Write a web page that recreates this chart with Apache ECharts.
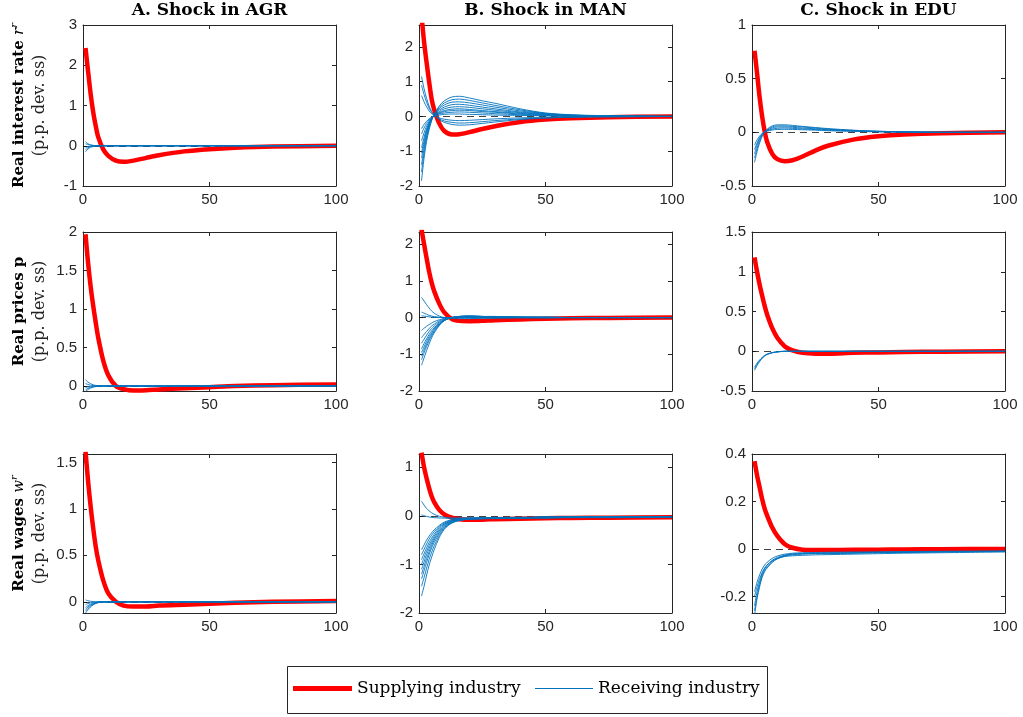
<!DOCTYPE html>
<html>
<head>
<meta charset="utf-8">
<script src="https://cdn.jsdelivr.net/npm/echarts@6/dist/echarts.min.js"></script>
<style>
html,body{margin:0;padding:0;background:#fff;}
#chart{width:1023px;height:717px;}
</style>
</head>
<body>
<div id="chart"></div>
<script>
// ---------- DATA ----------
const T = [1,2,3,4,5,6,8,10,13,16,20,25,30,40,50,60,75,100];
const X_TICKS = [0,50,100];

const COL_TITLES = ['A. Shock in AGR','B. Shock in MAN','C. Shock in EDU'];
const LEGEND_NAMES = ['Supplying industry','Receiving industry'];

// Row 1: real interest rate
const R_AGR_RED = [2.43,1.85,1.3,0.85,0.5,0.22,-0.09,-0.25,-0.37,-0.40,-0.37,-0.3,-0.235,-0.14,-0.085,-0.05,-0.02,0.0];
const R_AGR_BLUE = [
  [-0.15,-0.08,-0.04,-0.02,-0.01,0,0,0,0,0,0,0,0,0,0,0,0,0],
  [-0.1,-0.05,-0.02,-0.01,0,0,0,0,0,0,0,0,0,0,0,0,0,0],
  [-0.05,-0.02,-0.01,0,0,0,0,0,0,0,0,0,0,0,0,0,0,0],
  [0.05,0.03,0.015,0.005,0,0,0,0,0,0,0,0,0,0,0,0,0,0],
  [0.1,0.05,0.02,0.01,0,0,0,0,0,0,0,0,0,0,0,0,0,0]
];
const R_MAN_RED = [2.9,2.15,1.55,1.0,0.5,0.2,-0.2,-0.42,-0.52,-0.51,-0.45,-0.36,-0.28,-0.16,-0.09,-0.05,-0.02,0];
const R_MAN_BLUE = [
  [-1.85,-1.2,-0.72,-0.38,-0.12,0.06,0.3,0.45,0.56,0.58,0.53,0.45,0.38,0.22,0.1,0.05,0.02,0.0],
  [-1.6,-1.05,-0.62,-0.32,-0.1,0.05,0.26,0.39,0.48,0.5,0.46,0.39,0.32,0.19,0.09,0.04,0.015,0],
  [-1.4,-0.92,-0.55,-0.28,-0.08,0.05,0.22,0.33,0.41,0.42,0.39,0.33,0.27,0.16,0.08,0.04,0.01,0],
  [-1.2,-0.8,-0.48,-0.24,-0.07,0.04,0.18,0.27,0.34,0.35,0.32,0.27,0.22,0.13,0.07,0.03,0.01,0],
  [-1.05,-0.7,-0.42,-0.21,-0.06,0.03,0.14,0.22,0.27,0.28,0.26,0.22,0.18,0.11,0.06,0.03,0.01,0],
  [-0.9,-0.6,-0.36,-0.18,-0.05,0.03,0.11,0.17,0.21,0.22,0.2,0.17,0.14,0.09,0.05,0.02,0.01,0],
  [-0.7,-0.47,-0.28,-0.14,-0.04,0.02,0.09,0.14,0.17,0.18,0.17,0.14,0.12,0.07,0.04,0.02,0.01,0],
  [-0.5,-0.33,-0.2,-0.1,-0.03,0.02,0.07,0.1,0.12,0.13,0.12,0.1,0.08,0.05,0.03,0.01,0,0],
  [-0.35,-0.23,-0.14,-0.07,-0.02,0.01,0.04,0.06,0.07,0.07,0.06,0.05,0.04,0.03,0.02,0.01,0,0],
  [0.6,0.42,0.28,0.16,0.08,0.03,-0.04,-0.08,-0.11,-0.12,-0.11,-0.09,-0.07,-0.04,-0.02,-0.01,0,0],
  [0.9,0.63,0.41,0.24,0.12,0.04,-0.07,-0.13,-0.17,-0.19,-0.18,-0.15,-0.12,-0.07,-0.04,-0.02,-0.01,0],
  [1.15,0.8,0.52,0.3,0.14,0.04,-0.09,-0.17,-0.23,-0.25,-0.24,-0.2,-0.16,-0.09,-0.05,-0.02,-0.01,0]
];
const R_EDU_RED = [0.76,0.55,0.33,0.15,0.01,-0.09,-0.2,-0.25,-0.27,-0.26,-0.225,-0.17,-0.125,-0.068,-0.037,-0.02,-0.008,0];
const R_EDU_BLUE = [
  [-0.28,-0.18,-0.1,-0.04,0.0,0.03,0.06,0.07,0.07,0.065,0.055,0.045,0.035,0.02,0.01,0.005,0,0],
  [-0.24,-0.15,-0.08,-0.03,0.0,0.025,0.05,0.06,0.06,0.055,0.05,0.04,0.03,0.018,0.01,0.005,0,0],
  [-0.2,-0.12,-0.06,-0.02,0.005,0.02,0.04,0.05,0.05,0.047,0.04,0.033,0.025,0.015,0.008,0.004,0,0],
  [-0.16,-0.1,-0.05,-0.015,0.005,0.015,0.03,0.038,0.04,0.037,0.032,0.026,0.02,0.012,0.006,0.003,0,0],
  [-0.12,-0.07,-0.035,-0.01,0.005,0.012,0.022,0.027,0.028,0.027,0.024,0.02,0.015,0.009,0.005,0.002,0,0]
];

// Row 2: real prices
const P_AGR_RED = [1.97,1.6,1.3,1.05,0.83,0.63,0.33,0.14,0.0,-0.04,-0.06,-0.055,-0.045,-0.03,-0.015,0.0,0.01,0.02];
const P_AGR_BLUE = [
  [0.08,0.05,0.03,0.015,0.008,0.004,0,0,0,0,0,0,0,0,0,0,0,0],
  [0.03,0.02,0.01,0.005,0.002,0,0,0,0,0,0,0,0,0,0,0,0,0],
  [-0.02,-0.012,-0.006,-0.003,0,0,0,0,0,0,0,0,0,0,0,0,0,0],
  [-0.05,-0.03,-0.017,-0.009,-0.005,-0.002,0,0,0,0,0,0,0,0,0,0,0,0],
  [-0.07,-0.045,-0.027,-0.015,-0.008,-0.004,0,0,0,0,0,0,0,0,0,0,0,0]
];
const P_MAN_RED = [2.4,2.0,1.62,1.25,0.95,0.72,0.38,0.14,-0.04,-0.09,-0.1,-0.09,-0.07,-0.05,-0.03,-0.02,-0.01,0];
const P_MAN_BLUE = [
  [0.55,0.45,0.35,0.26,0.18,0.12,0.04,0.0,-0.02,-0.03,-0.03,-0.02,-0.02,-0.01,-0.01,0,0,0],
  [0.15,0.12,0.09,0.06,0.04,0.025,0.01,0,-0.01,-0.01,-0.01,-0.01,0,0,0,0,0,0],
  [0.05,0.04,0.03,0.02,0.01,0.005,0,0,0,0,0,0,0,0,0,0,0,0],
  [-0.35,-0.29,-0.24,-0.19,-0.15,-0.11,-0.06,-0.02,0.0,0.01,0.01,0.01,0.01,0,0,0,0,0],
  [-0.55,-0.46,-0.38,-0.3,-0.23,-0.18,-0.09,-0.03,0.0,0.02,0.02,0.02,0.01,0.01,0,0,0,0],
  [-0.7,-0.59,-0.48,-0.38,-0.3,-0.23,-0.12,-0.05,0.0,0.02,0.03,0.02,0.02,0.01,0,0,0,0],
  [-0.85,-0.71,-0.58,-0.46,-0.36,-0.28,-0.15,-0.06,0.0,0.03,0.03,0.03,0.02,0.01,0,0,0,0],
  [-0.95,-0.8,-0.65,-0.52,-0.41,-0.31,-0.17,-0.07,0.0,0.03,0.04,0.03,0.02,0.01,0.01,0,0,0],
  [-1.05,-0.88,-0.72,-0.58,-0.45,-0.35,-0.19,-0.08,0.0,0.03,0.04,0.03,0.02,0.01,0.01,0,0,0],
  [-1.15,-0.96,-0.79,-0.63,-0.5,-0.38,-0.2,-0.08,0.0,0.03,0.04,0.03,0.03,0.01,0.01,0,0,0],
  [-1.3,-1.1,-0.9,-0.72,-0.55,-0.42,-0.22,-0.08,0.0,0.03,0.04,0.03,0.03,0.01,0.01,0,0,0]
];
const P_EDU_RED = [1.18,1.0,0.84,0.7,0.57,0.46,0.29,0.17,0.06,0.01,-0.02,-0.03,-0.03,-0.02,-0.015,-0.01,-0.005,0];
const P_EDU_BLUE = [
  [-0.24,-0.18,-0.13,-0.09,-0.06,-0.04,-0.02,-0.01,0,0,0,0,0,0,0,0,0,0],
  [-0.22,-0.165,-0.12,-0.085,-0.057,-0.038,-0.018,-0.008,0,0,0,0,0,0,0,0,0,0],
  [-0.2,-0.15,-0.11,-0.078,-0.053,-0.035,-0.016,-0.007,0,0,0,0,0,0,0,0,0,0]
];

// Row 3: real wages
const W_AGR_RED = [1.62,1.3,1.03,0.8,0.6,0.45,0.23,0.09,0.0,-0.04,-0.05,-0.05,-0.04,-0.03,-0.02,-0.01,0,0.01];
const W_AGR_BLUE = [
  [0.02,0.012,0.006,0.003,0,0,0,0,0,0,0,0,0,0,0,0,0,0],
  [-0.03,-0.018,-0.01,-0.005,-0.002,0,0,0,0,0,0,0,0,0,0,0,0,0],
  [-0.06,-0.04,-0.025,-0.014,-0.007,-0.003,0,0,0,0,0,0,0,0,0,0,0,0],
  [-0.08,-0.055,-0.035,-0.02,-0.011,-0.005,-0.001,0,0,0,0,0,0,0,0,0,0,0],
  [-0.1,-0.07,-0.045,-0.027,-0.015,-0.007,-0.002,0,0,0,0,0,0,0,0,0,0,0],
  [-0.12,-0.085,-0.055,-0.033,-0.019,-0.009,-0.003,0,0,0,0,0,0,0,0,0,0,0]
];
const W_MAN_RED = [1.3,1.0,0.77,0.57,0.4,0.28,0.12,0.03,-0.04,-0.07,-0.08,-0.08,-0.07,-0.06,-0.05,-0.045,-0.04,-0.03];
const W_MAN_BLUE = [
  [0.3,0.22,0.15,0.1,0.06,0.03,-0.01,-0.03,-0.05,-0.05,-0.05,-0.05,-0.04,-0.04,-0.03,-0.03,-0.02,-0.02],
  [0.02,0.0,-0.015,-0.025,-0.035,-0.04,-0.045,-0.05,-0.05,-0.05,-0.05,-0.04,-0.04,-0.03,-0.03,-0.02,-0.02,-0.02],
  [-0.7,-0.6,-0.5,-0.42,-0.35,-0.29,-0.2,-0.13,-0.08,-0.06,-0.05,-0.05,-0.04,-0.04,-0.03,-0.03,-0.02,-0.02],
  [-0.8,-0.69,-0.58,-0.48,-0.4,-0.33,-0.22,-0.15,-0.09,-0.07,-0.05,-0.05,-0.04,-0.04,-0.03,-0.03,-0.02,-0.02],
  [-0.9,-0.78,-0.66,-0.55,-0.46,-0.38,-0.25,-0.17,-0.1,-0.07,-0.06,-0.05,-0.04,-0.04,-0.03,-0.03,-0.02,-0.02],
  [-1.0,-0.86,-0.73,-0.61,-0.51,-0.42,-0.28,-0.18,-0.11,-0.08,-0.06,-0.05,-0.05,-0.04,-0.03,-0.03,-0.02,-0.02],
  [-1.1,-0.95,-0.8,-0.67,-0.56,-0.46,-0.31,-0.2,-0.12,-0.08,-0.06,-0.05,-0.05,-0.04,-0.03,-0.03,-0.02,-0.02],
  [-1.2,-1.04,-0.88,-0.74,-0.61,-0.5,-0.34,-0.22,-0.13,-0.09,-0.07,-0.06,-0.05,-0.04,-0.04,-0.03,-0.02,-0.02],
  [-1.3,-1.13,-0.96,-0.8,-0.66,-0.55,-0.37,-0.24,-0.14,-0.09,-0.07,-0.06,-0.05,-0.04,-0.04,-0.03,-0.02,-0.02],
  [-1.45,-1.27,-1.08,-0.9,-0.75,-0.62,-0.41,-0.26,-0.15,-0.1,-0.07,-0.06,-0.05,-0.05,-0.04,-0.03,-0.03,-0.02],
  [-1.65,-1.45,-1.22,-1.02,-0.85,-0.7,-0.45,-0.28,-0.14,-0.09,-0.07,-0.06,-0.06,-0.05,-0.05,-0.04,-0.04,-0.03]
];
const W_EDU_RED = [0.37,0.31,0.26,0.21,0.17,0.14,0.09,0.055,0.02,0.005,-0.003,-0.005,-0.005,-0.004,-0.003,-0.002,-0.001,0];
const W_EDU_BLUE = [
  [-0.28,-0.21,-0.16,-0.12,-0.095,-0.08,-0.057,-0.042,-0.03,-0.025,-0.022,-0.02,-0.02,-0.018,-0.016,-0.015,-0.013,-0.01],
  [-0.26,-0.2,-0.15,-0.115,-0.09,-0.075,-0.053,-0.04,-0.028,-0.023,-0.02,-0.019,-0.018,-0.017,-0.015,-0.014,-0.012,-0.01],
  [-0.24,-0.18,-0.14,-0.105,-0.083,-0.068,-0.048,-0.036,-0.026,-0.021,-0.019,-0.018,-0.017,-0.016,-0.014,-0.013,-0.011,-0.01],
  [-0.2,-0.16,-0.125,-0.1,-0.08,-0.067,-0.05,-0.04,-0.032,-0.029,-0.027,-0.025,-0.024,-0.022,-0.02,-0.018,-0.016,-0.013],
  [-0.18,-0.14,-0.11,-0.085,-0.068,-0.056,-0.04,-0.03,-0.022,-0.018,-0.016,-0.015,-0.014,-0.013,-0.012,-0.011,-0.01,-0.009]
];

// Y axis ranges and tick labels
const Y_RANGES = [
  [-1,3],[-2,2.63],[-0.5,1],
  [-0.065,2],[-2,2.33],[-0.5,1.5],
  [-0.12,1.59],[-2,1.27],[-0.27,0.4]
];
const Y_TICKS = [
  [-1,0,1,2,3],[-2,-1,0,1,2],[-0.5,0,0.5,1],
  [0,0.5,1,1.5,2],[-2,-1,0,1,2],[-0.5,0,0.5,1,1.5],
  [0,0.5,1,1.5],[-2,-1,0,1],[-0.2,0,0.2,0.4]
];

const REDS = [R_AGR_RED,R_MAN_RED,R_EDU_RED,P_AGR_RED,P_MAN_RED,P_EDU_RED,W_AGR_RED,W_MAN_RED,W_EDU_RED];
const BLUES = [R_AGR_BLUE,R_MAN_BLUE,R_EDU_BLUE,P_AGR_BLUE,P_MAN_BLUE,P_EDU_BLUE,W_AGR_BLUE,W_MAN_BLUE,W_EDU_BLUE];

// ---------- LAYOUT ----------
const COL_LEFT = [83, 419, 752];
const COL_W = 253;
const ROW_TOP = [25, 232, 454];
const ROW_H = [161, 159, 159];

const AX = '#262626';
const RED = '#FF0000';
const BLUE = '#0072BD';
const SANS = '"Liberation Sans", Arial, sans-serif';
const SERIF = '"DejaVu Serif", serif';

const legendText = {fontFamily: SERIF, fontSize: 17, color: '#000'};
const option = {
  animation: false,
  backgroundColor: '#fff',
  grid: [], xAxis: [], yAxis: [], series: [], graphic: [],
  legend: [
    {left: 293, top: 680, padding: 0, selectedMode: false, itemGap: 0,
     data: [{name: LEGEND_NAMES[0], icon: 'rect', itemStyle: {color: RED}}],
     itemWidth: 59, itemHeight: 5, textStyle: legendText},
    {left: 535, top: 680, padding: 0, selectedMode: false, itemGap: 0,
     data: [{name: LEGEND_NAMES[1], icon: 'rect', itemStyle: {color: BLUE}}],
     itemWidth: 58, itemHeight: 1.2, textStyle: legendText}
  ]
};

function pairs(arr) { return T.map((t, k) => [t, arr[k]]); }

for (let i = 0; i < 9; i++) {
  const r = Math.floor(i / 3), c = i % 3;
  option.grid.push({left: COL_LEFT[c], top: ROW_TOP[r], width: COL_W, height: ROW_H[r]});
  const xBase = {
    type: 'value', gridIndex: i, min: 0, max: 100,
    axisLine: {show: true, onZero: false, lineStyle: {color: AX, width: 1}},
    axisTick: {show: true, inside: true, length: 4, customValues: X_TICKS, lineStyle: {color: AX}},
    splitLine: {show: false}
  };
  option.xAxis.push(Object.assign({}, xBase, {position: 'bottom',
    axisLabel: {customValues: X_TICKS, color: AX, fontSize: 15, fontFamily: SANS, margin: 6}}));
  option.xAxis.push(Object.assign({}, xBase, {position: 'top', axisLabel: {show: false}}));
  const yBase = {
    type: 'value', gridIndex: i, min: Y_RANGES[i][0], max: Y_RANGES[i][1],
    axisLine: {show: true, onZero: false, lineStyle: {color: AX, width: 1}},
    axisTick: {show: true, inside: true, length: 4, customValues: Y_TICKS[i], lineStyle: {color: AX}},
    splitLine: {show: false}
  };
  option.yAxis.push(Object.assign({}, yBase, {position: 'left',
    axisLabel: {customValues: Y_TICKS[i], color: AX, fontSize: 15, fontFamily: SANS, margin: 6}}));
  option.yAxis.push(Object.assign({}, yBase, {position: 'right', axisLabel: {show: false}}));

  const xi = 2 * i, yi = 2 * i;
  option.series.push({
    type: 'line', name: LEGEND_NAMES[0], xAxisIndex: xi, yAxisIndex: yi,
    data: pairs(REDS[i]), symbol: 'none', smooth: 0.3,
    lineStyle: {color: RED, width: 4.5, join: 'round', cap: 'butt'}, itemStyle: {color: RED}, z: 3,
    markLine: {
      silent: true, symbol: 'none', label: {show: false},
      lineStyle: {color: '#111', width: 0.8, type: [7, 5]},
      data: [{yAxis: 0}], z: 1
    }
  });
  BLUES[i].forEach(b => {
    option.series.push({
      type: 'line', name: LEGEND_NAMES[1], xAxisIndex: xi, yAxisIndex: yi,
      data: pairs(b), symbol: 'none', smooth: 0.3,
      lineStyle: {color: BLUE, width: 0.9, join: 'round'}, itemStyle: {color: BLUE}, z: 4
    });
  });
}

// Legend frame
option.graphic.push({
  type: 'rect', shape: {x: 287.5, y: 666.5, width: 480, height: 47},
  style: {fill: 'none', stroke: AX, lineWidth: 1}, silent: true, z: -1
});

// Column titles
COL_TITLES.forEach((t, c) => {
  option.graphic.push({
    type: 'text', x: COL_LEFT[c] + COL_W / 2, y: 11,
    style: {text: t, font: 'bold 17px ' + SERIF, fill: '#000', align: 'center', verticalAlign: 'middle',
      textAlign: 'center', textVerticalAlign: 'middle'}
  });
});

// Row labels
const ROW_LABELS = [
  '{b|Real interest rate }{i|r}{s|r}',
  '{b|Real prices p}',
  '{b|Real wages }{i|w}{s|r}'
];
const richRow = {
  b: {fontFamily: SERIF, fontWeight: 'bold', fontSize: 15, color: '#000', lineHeight: 20},
  i: {fontFamily: SERIF, fontStyle: 'italic', fontSize: 15, color: '#000', lineHeight: 20},
  s: {fontFamily: SERIF, fontStyle: 'italic', fontSize: 10, color: '#000', verticalAlign: 'top', lineHeight: 20}
};
ROW_LABELS.forEach((t, r) => {
  const cy = ROW_TOP[r] + ROW_H[r] / 2;
  option.graphic.push({
    type: 'text', x: 19, y: cy, rotation: Math.PI / 2,
    style: {text: t, rich: richRow, align: 'center', verticalAlign: 'middle', textAlign: 'center', textVerticalAlign: 'middle'}
  });
  option.graphic.push({
    type: 'text', x: 40, y: cy, rotation: Math.PI / 2,
    style: {text: '(p.p. dev. ss)', font: '16px ' + SERIF, fill: '#222', align: 'center', verticalAlign: 'middle',
      textAlign: 'center', textVerticalAlign: 'middle'}
  });
});

const chart = echarts.init(document.getElementById('chart'), null, {renderer: 'canvas'});
chart.setOption(option);
</script>
</body>
</html>
